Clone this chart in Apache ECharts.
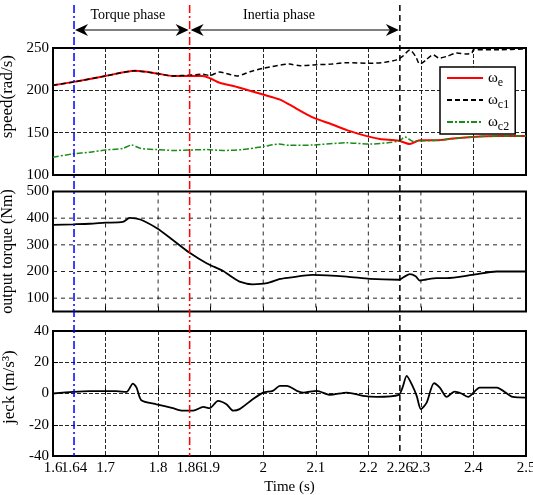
<!DOCTYPE html>
<html>
<head>
<meta charset="utf-8">
<script src="https://cdn.jsdelivr.net/npm/echarts@6/dist/echarts.min.js"></script>
<style>html,body{margin:0;padding:0;background:#fff;}#c{width:533px;height:495px;}</style>
</head>
<body>
<div id="c"></div>
<script>
// ---- data ----
const timeE   = [1.6,1.64,1.7,1.756,1.797,1.828,1.86,1.885,1.9,1.917,1.95,2.0,2.032,2.05,2.094,2.13,2.159,2.203,2.222,2.258,2.279,2.298,2.33,2.36,2.398,2.45,2.5];
const speedE  = [206,210,217,223,220,217,217,217,214,209,204,195,189,183,168,160,153,145,142.5,140.5,136.6,141,141,143,145,146,146];
const timeC1  = [1.6,1.64,1.7,1.756,1.797,1.828,1.86,1.885,1.898,1.917,1.95,1.975,2.0,2.05,2.07,2.094,2.13,2.159,2.203,2.23,2.254,2.265,2.279,2.29,2.298,2.31,2.323,2.335,2.349,2.368,2.385,2.397,2.4,2.45,2.5];
const speedC1 = [206,210,217,223,220,217,218,219,217.5,221.6,217,222,226,231,229,230,231,232.6,232,233,236,240,247.6,240,231,236,242,238,240,244,243,244,248,248,249];
const timeC2  = [1.6,1.638,1.67,1.7,1.733,1.75,1.766,1.797,1.83,1.86,1.893,1.923,1.96,2.0,2.03,2.05,2.094,2.159,2.203,2.258,2.27,2.284,2.33,2.398,2.45,2.5];
const speedC2 = [121,125,127,129.5,131.5,135.4,131.5,130,129,129.5,130,129,130,133.6,136.6,135,135.4,138,136.6,140,145,140,141,145,146,146];
const timeT   = [1.6,1.638,1.67,1.7,1.733,1.746,1.766,1.797,1.828,1.86,1.893,1.923,1.94,1.955,1.98,2.007,2.032,2.05,2.094,2.159,2.203,2.258,2.268,2.279,2.29,2.298,2.31,2.33,2.349,2.398,2.444,2.5];
const torque  = [375,377,379,383,386,401,395,363,318,270,230,203,180,162,152,156,172,177,187,181,172,169,180,190,182,166,170,175,175,187,200,200];
const timeJ   = [1.6,1.638,1.67,1.72,1.74,1.752,1.759,1.768,1.797,1.828,1.847,1.867,1.886,1.898,1.914,1.93,1.943,1.955,1.98,2.0,2.018,2.032,2.045,2.064,2.076,2.102,2.127,2.159,2.19,2.216,2.258,2.265,2.273,2.284,2.292,2.30,2.311,2.325,2.336,2.349,2.364,2.377,2.39,2.412,2.444,2.475,2.5];
const jerk    = [0,1,1.5,1.5,1,6.3,3.8,-4.3,-6.9,-9.4,-11,-11,-8.6,-9.4,-4.7,-6.9,-11,-10,-3.7,0.6,1.7,4.9,4.9,1.7,0.6,1.7,-0.9,0.6,-1.5,-2.2,-0.9,3.8,11.3,4.9,-1.5,-10,-5.8,6.6,3.8,-2.2,1.2,0,-2.2,3.8,3.8,-2.2,-2.6];
const xTickLabels = [1.6,1.64,1.7,1.8,1.86,1.9,2,2.1,2.2,2.26,2.3,2.4,2.5];
const xGridValues = [1.7,1.8,1.9,2.0,2.1,2.2,2.3,2.4];
const torqueGrid  = [100,200,300,400];
const phaseTimes = [1.64, 1.86, 2.26];
const phaseNames = ['Torque phase', 'Inertia phase'];
const seriesNames = ['ωe', 'ωc1', 'ωc2'];

const zip = (a, b) => a.map((v, i) => [v, b[i]]);
const FF = '"Liberation Serif","Times New Roman",serif';
const clone = o => JSON.parse(JSON.stringify(o));
const fmtX = v => String(Number(v.toFixed(2)));
const NB = '\u00a0';

const chart = echarts.init(document.getElementById('c'), null, {renderer: 'canvas'});

const grids = [
  {left: 53, right: 7, top: 48, height: 127},
  {left: 53, right: 7, top: 191.5, height: 120},
  {left: 53, right: 7, top: 331, height: 125}
].map(g => Object.assign({show: true, borderColor: '#000', borderWidth: 2, outerBoundsMode: 'none'}, g));

const tickStyle = {show: true, inside: true, length: 5, lineStyle: {color: '#000', width: 1}};
const noLine = {show: false};
const gridDash = {show: true, lineStyle: {color: '#000', type: 'dashed', width: 1, opacity: 0.85}};

const xAxes = [];
for (let i = 0; i < 3; i++) {
  xAxes.push({
    type: 'value', gridIndex: i, position: 'bottom', min: 1.6, max: 2.5, interval: 0.1,
    axisLine: clone(noLine), axisTick: clone(tickStyle),
    splitLine: i === 1 ? {show: false} : clone(gridDash),
    axisLabel: i === 2 ? {
      show: true, customValues: xTickLabels.slice(1), color: '#000', fontFamily: FF, fontSize: 15, margin: 5,
      hideOverlap: false, showMinLabel: true, showMaxLabel: true, formatter: fmtX
    } : {show: false},
    name: i === 2 ? 'Time (s)' : '', nameLocation: 'middle', nameGap: 24,
    nameTextStyle: {color: '#000', fontFamily: FF, fontSize: 15}
  });
}

const yLabel = {color: '#000', fontFamily: FF, fontSize: 15, margin: 4, showMinLabel: true, showMaxLabel: true};
const yName = {color: '#000', fontFamily: FF, fontSize: 17};
const yAxes = [
  {type: 'value', gridIndex: 0, position: 'left', min: 100, max: 250, interval: 50, axisLine: clone(noLine), axisTick: clone(tickStyle),
   splitLine: clone(gridDash), axisLabel: clone(yLabel), name: NB.repeat(7) + 'speed(rad/s)', nameLocation: 'middle', nameGap: 30,
   nameTextStyle: clone(yName)},
  {type: 'value', gridIndex: 1, position: 'left', min: 50, max: 500, interval: 50, axisLine: clone(noLine),
   axisTick: {show: false},
   splitLine: {show: false},
   axisLabel: Object.assign(clone(yLabel), {formatter: v => (v % 100 === 0 ? String(v) : '')}),
   name: 'output torque (Nm)', nameLocation: 'middle', nameGap: 30, nameTextStyle: Object.assign(clone(yName), {fontSize: 16})},
  {type: 'value', gridIndex: 2, position: 'left', min: -40, max: 40, interval: 20, axisLine: clone(noLine), axisTick: clone(tickStyle),
   splitLine: clone(gridDash), axisLabel: clone(yLabel), name: NB.repeat(3) + 'jeck (m/s³)', nameLocation: 'middle', nameGap: 30,
   nameTextStyle: clone(yName)}
];

const lineBase = {type: 'line', showSymbol: false, symbol: 'none', smooth: 0.25};

const option = {
  animation: false,
  backgroundColor: '#fff',
  grid: grids,
  xAxis: xAxes,
  yAxis: yAxes,
  legend: {
    data: seriesNames, orient: 'vertical', left: 440, top: 67,
    backgroundColor: '#fff', borderColor: '#000', borderWidth: 1.5, borderRadius: 0,
    padding: [0, 6, 1, 6], itemWidth: 36, itemHeight: 12, itemGap: 0, z: 20,
    itemStyle: {opacity: 0},
    textStyle: {
      color: '#000', fontFamily: FF,
      rich: {
        w: {fontSize: 15, fontFamily: FF, color: '#000', lineHeight: 14},
        s: {fontSize: 12, fontFamily: FF, color: '#000', padding: [10, 0, 0, 0], lineHeight: 10}
      }
    },
    formatter: n => '{w|ω}{s|' + n.slice(1) + '}'
  },
  series: [
    Object.assign({}, lineBase, {name: seriesNames[0], xAxisIndex: 0, yAxisIndex: 0, data: zip(timeE, speedE),
      lineStyle: {color: '#ff0000', width: 2}, itemStyle: {color: '#ff0000'}}),
    Object.assign({}, lineBase, {name: seriesNames[1], xAxisIndex: 0, yAxisIndex: 0, data: zip(timeC1, speedC1),
      lineStyle: {color: '#000', width: 1.5, type: [5, 3]}, itemStyle: {color: '#000'}}),
    Object.assign({}, lineBase, {name: seriesNames[2], xAxisIndex: 0, yAxisIndex: 0, data: zip(timeC2, speedC2),
      lineStyle: {color: '#1a8c1a', width: 1.5, type: [6, 2, 2, 2]}, itemStyle: {color: '#1a8c1a'}}),
    Object.assign({}, lineBase, {name: 'torque', xAxisIndex: 1, yAxisIndex: 1, data: zip(timeT, torque),
      lineStyle: {color: '#000', width: 1.8}, itemStyle: {color: '#000'}}),
    Object.assign({}, lineBase, {name: 'jerk', xAxisIndex: 2, yAxisIndex: 2, data: zip(timeJ, jerk),
      lineStyle: {color: '#000', width: 1.8}, itemStyle: {color: '#000'}})
  ]
};
chart.setOption(option);

// overlay elements positioned through the axes' own scales
const px = t => chart.convertToPixel({xAxisIndex: 2}, t);
const py1 = v => chart.convertToPixel({yAxisIndex: 1}, v);
const yBottom = chart.convertToPixel({yAxisIndex: 2}, -40);
const gfx = [];

// output-torque panel grid lines
const x0 = px(1.6), x1 = px(2.5), yT = py1(500), yB = py1(50);
xGridValues.forEach(v => {
  const x = chart.convertToPixel({xAxisIndex: 1}, v);
  gfx.push({type: 'line', z: 50, silent: true, shape: {x1: x, y1: yT, x2: x, y2: yB},
    style: {stroke: '#000', lineWidth: 1, lineDash: [4, 4], opacity: 0.85}});
});
torqueGrid.forEach(v => {
  const y = py1(v);
  gfx.push({type: 'line', z: 50, silent: true, shape: {x1: x0, y1: y, x2: x1, y2: y},
    style: {stroke: '#000', lineWidth: 1, lineDash: [4, 4], opacity: 0.85}});
});

// first time tick label (sits against the 1.64 label as in the original)
gfx.push({type: 'text', z: 52, x: px(xTickLabels[0]), y: yBottom + 5,
  style: {text: fmtX(xTickLabels[0]), fill: '#000', font: '15px ' + FF, align: 'center', verticalAlign: 'top'}});

// phase marker lines
const xs = phaseTimes.map(px);
const lineColors = ['#0000ff', '#ff0000', '#000'];
const lineDashes = [[8, 3, 2, 3], [8, 3, 2, 3], [6, 4]];
xs.forEach((x, i) => {
  gfx.push({type: 'line', z: 51, shape: {x1: x, y1: 5, x2: x, y2: yBottom},
    style: {stroke: lineColors[i], lineWidth: 1.5, lineDash: lineDashes[i]}});
});
const ay = 30;
function arrowHead(x, dir) {
  return {type: 'polygon', z: 51, shape: {points: [[x, ay], [x - dir * 13, ay - 6], [x - dir * 9, ay], [x - dir * 13, ay + 6]]},
    style: {fill: '#000'}};
}
for (let k = 0; k < 2; k++) {
  const a = xs[k], b = xs[k + 1];
  gfx.push({type: 'line', z: 50, shape: {x1: a + 3, y1: ay, x2: b - 3, y2: ay}, style: {stroke: '#555', lineWidth: 1.5}});
  gfx.push(arrowHead(a + 1, -1));
  gfx.push(arrowHead(b - 1, 1));
}
const textCenters = [px((phaseTimes[0] + phaseTimes[1]) / 2) - 4, px(2.03)];
phaseNames.forEach((n, k) => {
  gfx.push({type: 'text', z: 52, x: textCenters[k], y: 15,
    style: {text: n, fill: '#000', font: '14px ' + FF, align: 'center', verticalAlign: 'middle'}});
});
chart.setOption({graphic: gfx});
</script>
</body>
</html>
